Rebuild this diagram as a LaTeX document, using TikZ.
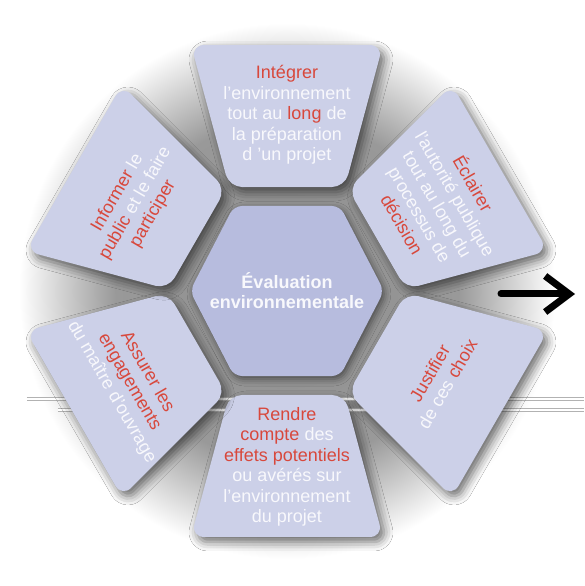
\documentclass[tikz,border=0pt]{standalone}
\usepackage{fontspec}
\setmainfont{Liberation Sans}
\usetikzlibrary{arrows.meta, calc, shadows.blur}
\definecolor{petalfill}{RGB}{204,208,232}
\definecolor{corefill}{RGB}{183,188,222}
\definecolor{accent}{RGB}{216,72,60}
\definecolor{softwhite}{RGB}{248,248,252}
\pgfdeclareradialshading{backdrop}{\pgfpoint{0bp}{0bp}}{color(0bp)=(black!45); color(16bp)=(black!40); color(21bp)=(black!18); color(25bp)=(white); color(50bp)=(white)}
\newcommand{\hl}[1]{\textcolor{accent}{#1}}
\tikzset{
	petal/.style={fill=petalfill, rounded corners=13pt, blur shadow={shadow xshift=4pt, shadow yshift=-5pt, shadow blur radius=9pt, shadow opacity=55}},
	core/.style={fill=corefill, rounded corners=8pt, blur shadow={shadow xshift=2pt, shadow yshift=-3pt, shadow blur radius=7pt, shadow opacity=50}},
	petaltext/.style={align=center, text=softwhite, inner sep=0pt, font=\fontsize{18}{20.5}\selectfont},
	coretext/.style={align=center, text=softwhite, inner sep=0pt, font=\fontsize{18}{20}\selectfont\bfseries},
	rule/.style={draw=white, line width=1.4pt, preaction={draw=gray!60, line width=3.6pt}},
	arr/.style={line width=7pt, line cap=round, -{Straight Barb[length=24pt, width=36pt]}}
}

\begin{document}
\begin{tikzpicture}[x=1pt, y=1pt]
	\path[use as bounding box, fill=white] (-287,-295) rectangle (297,291);
	\shade[shading=backdrop] (0,0) circle (268);

	\draw[rule] (-260,-108) -- (297,-108);
	\draw[rule] (-229,-119) -- (297,-119);

	\path[core] (-97,0) -- (-53,85) -- (53,85) -- (97,0) -- (53,-85) -- (-53,-85) -- cycle;
	\foreach \ang in {90,30,-30,-90,-150,150}
		\path[petal] ({\ang-29.1}:119) -- ({\ang+29.1}:119) -- ({\ang+21.3}:264) -- ({\ang-21.3}:264) -- cycle;

	\node[coretext] (core) at (0,0) {Évaluation\\environnementale};
	\node[petaltext] (integrer) at (90:176) {\hl{Intégrer}\\l’environnement\\tout au \hl{long} de\\la préparation\\d ’un projet};
	\node[petaltext, rotate=-60] (eclairer) at (30:175) {\hl{Éclairer}\\l’autorité publique\\tout au long du\\processus de\\\hl{décision}};
	\node[petaltext, rotate=60] (justifier) at (-30:175) {\hl{Justifier}\\de ces \hl{choix}};
	\node[petaltext] (rendre) at (-90:176) {\hl{Rendre}\\\hl{compte} des\\\hl{effets potentiels}\\ou avérés sur\\l’environnement\\du projet};
	\node[petaltext, rotate=-60] (assurer) at (-150:182) {\hl{Assurer les}\\\hl{engagements}\\du maître d’ouvrage};
	\node[petaltext, rotate=60] (informer) at (150:175) {\hl{Informer} le\\\hl{public} et le faire\\\hl{participer}};

	\coordinate (tail) at (214,-3);
	\coordinate (head) at (288,-3);
	\draw[arr] (tail) -- (head);
\end{tikzpicture}
\end{document}
